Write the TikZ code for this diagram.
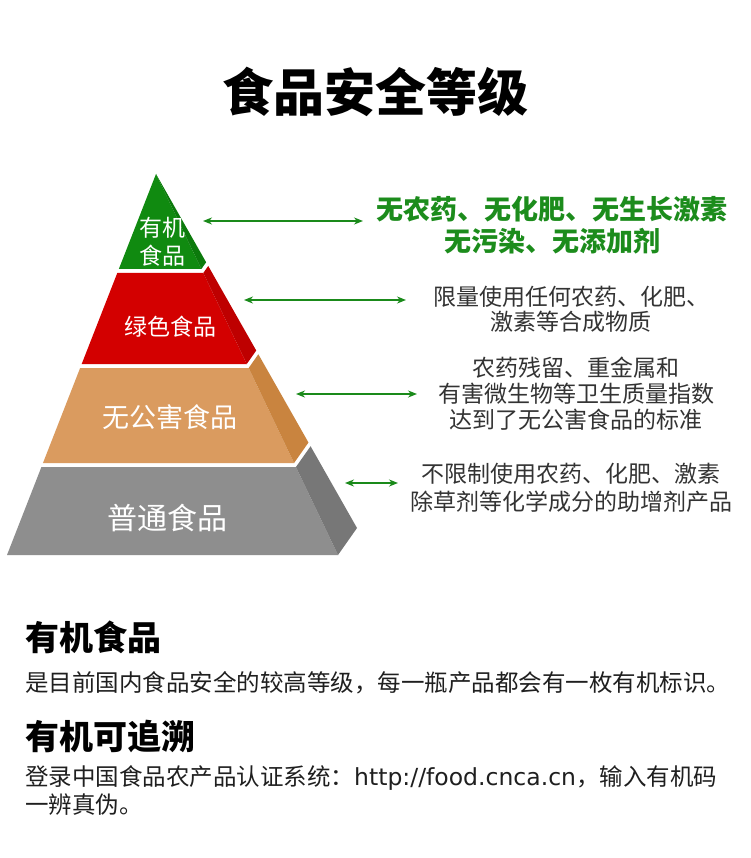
\documentclass[tikz,border=0pt]{standalone}
\usepackage{fontspec}
\setmainfont{Noto Sans CJK SC}
\newfontfamily\dejavu{DejaVu Sans}
\usetikzlibrary{arrows.meta}
\definecolor{arrowgreen}{HTML}{1A8A1A}
\definecolor{titlegreen}{HTML}{1C8C1C}
\definecolor{descgray}{HTML}{333333}
\definecolor{greenfront}{HTML}{108A10}
\definecolor{greenside}{HTML}{0C7A0C}
\definecolor{redfront}{HTML}{D30000}
\definecolor{redside}{HTML}{BE0000}
\definecolor{orangefront}{HTML}{DA9B5F}
\definecolor{orangeside}{HTML}{C9843F}
\definecolor{grayfront}{HTML}{8E8E8E}
\definecolor{grayside}{HTML}{777777}
\tikzset{
  dblarrow/.style={arrowgreen, line width=1.8pt, {Stealth[length=9pt,width=7pt]}-{Stealth[length=9pt,width=7pt]}},
  tierlabel/.style={text=white, inner sep=0pt, align=center},
  desc/.style={text=descgray, inner sep=0pt, align=center},
  bodytext/.style={text=black!88, inner sep=0pt, anchor=west},
  heading/.style={text=black, inner sep=0pt, anchor=west, font=\fontsize{34}{40}\selectfont\bfseries}
}
\begin{document}
\begin{tikzpicture}[x=1pt,y=-1pt]
\useasboundingbox (0,0) rectangle (750,858);
\fill[white] (0,0) rectangle (750,858);

% title
\node[inner sep=0pt, font=\fontsize{51}{60}\selectfont\bfseries] (title) at (375,92) {食品安全等级};

% pyramid coordinates
\coordinate (apex) at (156,174);
% green tier
\coordinate (g1) at (118.85,269);
\coordinate (g2) at (201.38,269);
\coordinate (g3) at (206.12,262.27);
% red tier
\coordinate (r1) at (117.28,273);
\coordinate (r2) at (203.29,273);
\coordinate (r3) at (208.23,265.98);
\coordinate (r4) at (256.23,350.54);
\coordinate (r5) at (246.76,364);
\coordinate (r6) at (81.70,364);
% orange tier
\coordinate (o1) at (80.13,368);
\coordinate (o2) at (248.67,368);
\coordinate (o3) at (258.34,354.25);
\coordinate (o4) at (308.46,442.52);
\coordinate (o5) at (294.05,463);
\coordinate (o6) at (42.98,463);
% gray tier
\coordinate (p1) at (41.42,467);
\coordinate (p2) at (295.96,467);
\coordinate (p3) at (310.57,446.24);
\coordinate (p4) at (357,528);
\coordinate (p5) at (338,555);
\coordinate (p6) at (7,555);

\fill[greenfront] (apex) -- (g2) -- (g1) -- cycle;
\fill[greenside] (apex) -- (g3) -- (g2) -- cycle;
\fill[redfront] (r1) -- (r2) -- (r5) -- (r6) -- cycle;
\fill[redside] (r2) -- (r3) -- (r4) -- (r5) -- cycle;
\fill[orangefront] (o1) -- (o2) -- (o5) -- (o6) -- cycle;
\fill[orangeside] (o2) -- (o3) -- (o4) -- (o5) -- cycle;
\fill[grayfront] (p1) -- (p2) -- (p5) -- (p6) -- cycle;
\fill[grayside] (p2) -- (p3) -- (p4) -- (p5) -- cycle;

% tier labels
\node[tierlabel, font=\fontsize{23}{28}\selectfont] (organic) at (162,242) {有机\\食品};
\node[tierlabel, font=\fontsize{23}{28}\selectfont] (greenfood) at (170,327) {绿色食品};
\node[tierlabel, font=\fontsize{27}{32}\selectfont] (nopollution) at (170,417) {无公害食品};
\node[tierlabel, font=\fontsize{30}{36}\selectfont] (normal) at (167,518) {普通食品};

% descriptions
\node[inner sep=0pt, align=center, text=titlegreen, font=\fontsize{27}{32}\selectfont\bfseries] (d1) at (552,225) {无农药、无化肥、无生长激素\\无污染、无添加剂};
\node[desc, font=\fontsize{23}{25}\selectfont] (d2) at (571,309.5) {限量使用任何农药、化肥、\\激素等合成物质};
\node[desc, font=\fontsize{23}{26}\selectfont] (d3) at (576,394) {农药残留、重金属和\\有害微生物等卫生质量指数\\达到了无公害食品的标准};
\node[desc, font=\fontsize{23}{27.5}\selectfont] (d4) at (571,488) {不限制使用农药、化肥、激素\\除草剂等化学成分的助增剂产品};

% arrows
\coordinate (a1l) at (203,221); \coordinate (a1r) at (363,221);
\coordinate (a2l) at (244,300); \coordinate (a2r) at (406,300);
\coordinate (a3l) at (296,394); \coordinate (a3r) at (417,394);
\coordinate (a4l) at (345,483); \coordinate (a4r) at (398,483);
\draw[dblarrow] (a1l) -- (a1r);
\draw[dblarrow] (a2l) -- (a2r);
\draw[dblarrow] (a3l) -- (a3r);
\draw[dblarrow] (a4l) -- (a4r);

% bottom text
\node[heading] (h1) at (25,637) {有机食品};
\node[bodytext, font=\fontsize{23.5}{28}\selectfont] (b1) at (25,683) {是目前国内食品安全的较高等级，每一瓶产品都会有一枚有机标识。};
\node[heading] (h2) at (25,736) {有机可追溯};
\node[bodytext, font=\fontsize{23.5}{28}\selectfont] (b2) at (25,778) {登录中国食品农产品认证系统：{\dejavu\fontsize{23.5}{28}\selectfont http://food.cnca.cn}，输入有机码};
\node[bodytext, font=\fontsize{23.5}{28}\selectfont] (b3) at (25,805) {一辨真伪。};
\end{tikzpicture}
\end{document}
